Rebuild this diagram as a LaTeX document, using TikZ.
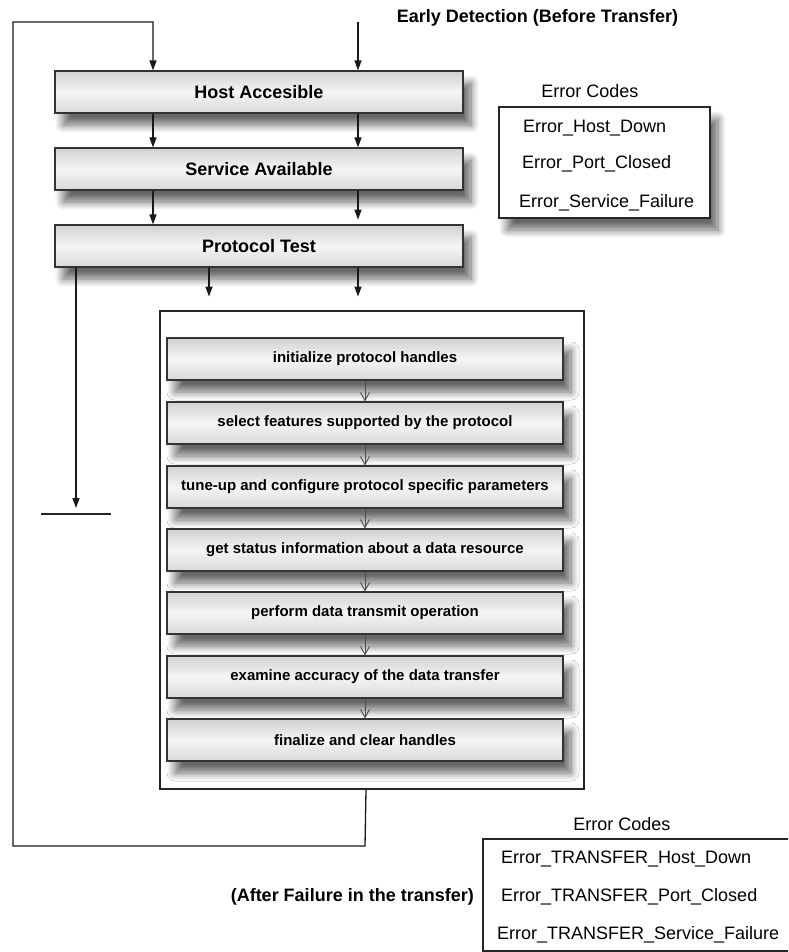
\documentclass[tikz,border=0pt]{standalone}
\usepackage{fontspec}
\setmainfont{Liberation Sans}
\usetikzlibrary{arrows.meta,shadows.blur,calc}
\begin{document}
\begin{tikzpicture}[x=1pt,y=-1pt,
  softshadow/.style={blur shadow={shadow xshift=8pt, shadow yshift=-12pt, shadow blur radius=8pt, shadow blur steps=12, shadow opacity=60}},
  shade box/.style={draw=black!80, line width=1.2pt, top color=black!18, bottom color=black!15, middle color=black!4, inner sep=0pt},
  mainbox/.style={shade box, minimum width=408pt, minimum height=42pt,
    font=\bfseries\fontsize{18}{20}\selectfont, softshadow},
  stepbox/.style={shade box, minimum width=396pt, minimum height=42pt,
    font=\bfseries\fontsize{15}{17}\selectfont, softshadow},
  plainbox/.style={draw=black!85, line width=1.1pt, fill=white, inner sep=0pt},
  codetext/.style={font=\fontsize{18}{20}\selectfont, inner sep=0pt},
  boldtext/.style={font=\bfseries\fontsize{18}{20}\selectfont, inner sep=0pt},
  flow/.style={line width=1.3pt, draw=black!90, -{Triangle[length=10pt,width=7pt]}},
  plainline/.style={line width=1.3pt, draw=black!85},
  steparrow/.style={line width=0.9pt, draw=black!70, -{Straight Barb[length=8pt,width=9pt,line width=0.9pt]}}
]
\useasboundingbox (0,0) rectangle (788,952);
\clip (0,0) rectangle (788,952);

% title
\node[boldtext] (title) at (537.5,18) {Early Detection (Before Transfer)};

% main boxes
\node[mainbox] (host) at (259,92) {Host Accesible};
\node[mainbox] (serv) at (259,169) {Service Available};
\node[mainbox] (prot) at (259,246) {Protocol Test};

% top error codes
\node[codetext] (ec1) at (590,91) {Error Codes};
\node[plainbox, minimum width=211pt, minimum height=111pt, softshadow] (ebox1) at (604.5,162.5) {};
\node[codetext, anchor=west] (e11) at (523,128) {Error\_Host\_Down};
\node[codetext, anchor=west] (e12) at (522,164) {Error\_Port\_Closed};
\node[codetext, anchor=west] (e13) at (519,203) {Error\_Service\_Failure};

% inner container
\node[plainbox, minimum width=424pt, minimum height=478pt] (inner) at (372,550) {};

% steps
\node[stepbox] (s1) at (365,359) {initialize protocol handles};
\node[stepbox] (s2) at (365,423) {select features supported by the protocol};
\node[stepbox] (s3) at (365,487) {tune-up and configure protocol specific parameters};
\node[stepbox] (s4) at (365,550) {get status information about a data resource};
\node[stepbox] (s5) at (365,613) {perform data transmit operation};
\node[stepbox] (s6) at (365,677) {examine accuracy of the data transfer};
\node[stepbox] (s7) at (365,740) {finalize and clear handles};

\foreach \a/\b in {s1/s2,s2/s3,s3/s4,s4/s5,s5/s6,s6/s7}
  \draw[steparrow] (\a.south) -- (\b.north);

% coordinates for free ends
\coordinate (topin) at (358,22);
\coordinate (loopTL) at (13,22);
\coordinate (loopBL) at (13,846);
\coordinate (loopBR) at (365,846);
\coordinate (leftend) at (76,508);
\coordinate (gndL) at (41,514);
\coordinate (gndR) at (111,514);

% loop back from inner container to top
\draw[flow] ([xshift=-6pt]inner.south) -- (loopBR) -- (loopBL) -- (loopTL) -| ([xshift=-106pt]host.north);
\draw[flow] (topin) -- ([xshift=99pt]host.north);

% arrows between main boxes
\draw[flow] ([xshift=-106pt]host.south) -- ([xshift=-106pt]serv.north);
\draw[flow] ([xshift=99pt]host.south) -- ([xshift=99pt]serv.north);
\draw[flow] ([xshift=-106pt]serv.south) -- ([xshift=-106pt]prot.north);
\draw[flow] ([xshift=99pt]serv.south) -- ++(0,29);

% arrows out of protocol test
\draw[flow] ([xshift=-50pt]prot.south) -- ++(0,29);
\draw[flow] ([xshift=99pt]prot.south) -- ++(0,29);
\draw[flow] ([xshift=-183pt]prot.south) -- (leftend);
\draw[plainline] (gndL) -- (gndR);

% bottom error codes
\node[codetext] (ec2) at (622,824) {Error Codes};
\draw[plainline, line width=1.1pt] (800,839) -- (483,839) -- (483,951) -- (800,951);
\node[codetext, anchor=west] (e21) at (501,859) {Error\_TRANSFER\_Host\_Down};
\node[codetext, anchor=west] (e22) at (501,897) {Error\_TRANSFER\_Port\_Closed};
\node[codetext, anchor=west] (e23) at (497,935) {Error\_TRANSFER\_Service\_Failure};
\node[boldtext, anchor=east] (after) at (474,897) {(After Failure in the transfer)};
\end{tikzpicture}
\end{document}
